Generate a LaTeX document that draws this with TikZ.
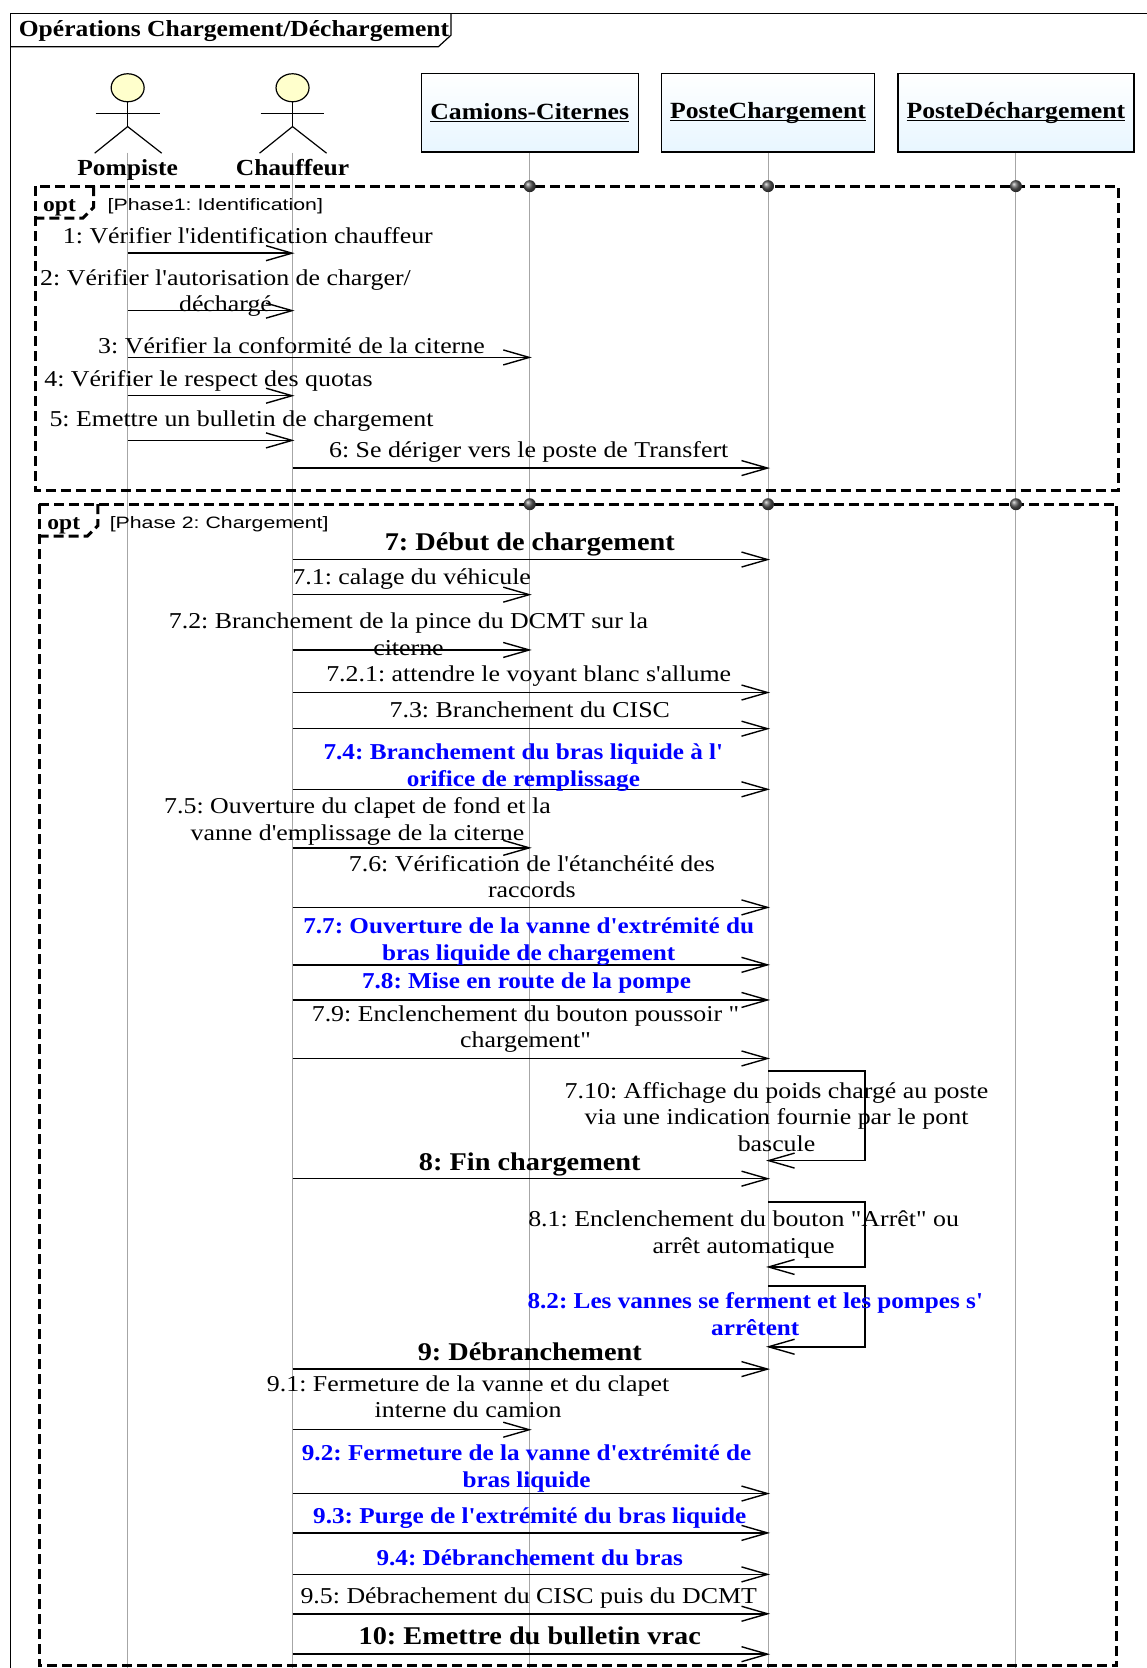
\documentclass[tikz,border=0pt]{standalone}
\usepackage{fontspec}
\setmainfont{Liberation Serif}[Ligatures=TeXOff,FakeStretch=1.14,BoldFeatures={FakeStretch=1.11}]
\newfontfamily\labelsans{Liberation Sans}[FakeStretch=1.29]
\usetikzlibrary{arrows.meta,shapes.geometric}
\AtBeginDocument{\frenchspacing}
\definecolor{boxtop}{HTML}{FFFFFF}
\definecolor{boxbot}{HTML}{E8F6FF}
\definecolor{headfill}{HTML}{FFFFCC}
\definecolor{msgblue}{RGB}{0,0,255}
\newcommand\boxname[1]{\raisebox{-2pt}{\setbox0=\hbox{#1}\rlap{\rule[-2.6pt]{\wd0}{1.3pt}}\box0}}
\tikzset{
  struts/.style={execute at begin node=\strut,execute at end node=\strut},
  txt/.style={inner sep=0pt,align=center,yshift=-2pt,struts,font=\fontsize{22.7}{26.6}\selectfont},
  ml/.style={yshift=-2pt},
  txtb/.style={txt,font=\fontsize{22.7}{26.6}\selectfont\bfseries},
  txtblue/.style={txtb,text=msgblue},
  txtbig/.style={txt,yshift=-2pt,font=\fontsize{25.5}{26.6}\selectfont\bfseries},
  condlabel/.style={inner sep=0pt,anchor=west,yshift=-2pt,struts,font=\fontsize{16.5}{20}\labelsans},
  optword/.style={inner sep=0pt,yshift=-2pt,struts,font=\fontsize{21.2}{24}\selectfont\bfseries},
  lifeline/.style={draw=black!35,line width=0.9pt},
  msgline/.style={draw=black,line width=1.5pt,shorten >=-2pt,-{Straight Barb[length=26pt,width=15pt,line width=1.4pt]}},
  lifebox/.style={draw=black,line width=1.4pt,top color=boxtop,bottom color=boxbot,minimum height=78.7pt,inner sep=0pt,font=\fontsize{23.2}{26.6}\selectfont\bfseries},
  actorname/.style={inner sep=0pt,yshift=-2pt,struts,font=\fontsize{23}{26.6}\selectfont\bfseries},
  actorhead/.style={draw=black,line width=1.2pt,fill=headfill,ellipse,minimum width=33pt,minimum height=28pt,inner sep=0pt},
  actorline/.style={draw=black,line width=1.2pt},
  optframe/.style={draw=black,line width=3pt,dash pattern=on 10pt off 5pt},
  framed/.style={draw=black,line width=1.2pt},
  lifedot/.style={circle,shade,ball color=black!65,minimum width=12pt,inner sep=0pt},
}
\newcommand\msgto[4]{\coordinate (#1s) at (#2,#4); \coordinate (#1e) at (#3,#4); \draw[msgline] (#1s) -- (#1e);}
\newcommand\selfmsg[3]{\coordinate (#1s) at (722,#2); \coordinate (#1a) at (813,#2); \coordinate (#1b) at (813,#3); \coordinate (#1e) at (722,#3); \draw[msgline] (#1s) -- (#1a) -- (#1b) -- (#1e);}
\newcommand\stick[2]{%
  \node[actorhead] (#1head) at (#2,82.5) {};
  \coordinate (#1hip) at (#2,119);
  \coordinate (#1armL) at (#2-30,107);
  \coordinate (#1armR) at (#2+30,107);
  \coordinate (#1legL) at (#2-31,144);
  \coordinate (#1legR) at (#2+32,144);
  \draw[actorline] (#1head.south) -- (#1hip);
  \draw[actorline] (#1armL) -- (#1armR);
  \draw[actorline] (#1legL) -- (#1hip) -- (#1legR);
}
\begin{document}
\begin{tikzpicture}[x=1.064pt,y=-1.064pt]
\useasboundingbox (0,0) rectangle (1078,1568);
\fill[white] (0,0) rectangle (1078,1568);
% diagram frame
\coordinate (fa) at (10,12.5);
\coordinate (fb) at (1078,12.5);
\coordinate (fc) at (10,1568);
\draw[framed] (fc) -- (fa) -- (fb);
\coordinate (ta) at (424,12.5);
\coordinate (tb) at (424,33);
\coordinate (tc) at (412,44);
\coordinate (td) at (10,44);
\draw[framed] (ta) -- (tb) -- (tc) -- (td);
\node[inner sep=0pt,yshift=-2pt,struts,font=\fontsize{23}{26.6}\selectfont\bfseries] (title) at (220,27) {Opérations Chargement/Déchargement};
% lifelines
\coordinate (low) at (0,1568);
\node[lifebox,minimum width=217pt] (cam) at (498,106) {\boxname{Camions-Citernes}};
\node[lifebox,minimum width=212.8pt] (pch) at (722,106) {\boxname{PosteChargement}};
\node[lifebox,minimum width=236pt] (pde) at (955,106) {\boxname{PosteDéchargement}};
\stick{pom}{120}
\stick{cha}{275}
\coordinate (pomtop) at (120,143.5);
\coordinate (chatop) at (275,143.5);
\draw[lifeline] (pomtop) -- (pomtop |- low);
\draw[lifeline] (chatop) -- (chatop |- low);
\draw[lifeline] (cam.south) -- (cam.south |- low);
\draw[lifeline] (pch.south) -- (pch.south |- low);
\draw[lifeline] (pde.south) -- (pde.south |- low);
\node[actorname] (pomname) at (120,158) {Pompiste};
\node[actorname] (chaname) at (275,158) {Chauffeur};
% opt 1
\coordinate (oa) at (33,175);
\coordinate (ob) at (1051,461);
\draw[optframe] (oa) rectangle (ob);
\coordinate (oc) at (88,175);
\coordinate (od) at (88,195);
\coordinate (oe) at (78,205);
\coordinate (of) at (33,205);
\draw[optframe] (oc) -- (od) -- (oe) -- (of);
\node[lifedot] (d1) at (498,175) {};
\node[lifedot] (d2) at (722,175) {};
\node[lifedot] (d3) at (955,175) {};
\node[optword] (opt1) at (56,192) {opt};
\node[condlabel] (cond1) at (101,192) {[Phase1: Identification]};
% opt 2
\coordinate (pa) at (37,474);
\coordinate (pb) at (1050,1566);
\draw[optframe] (pa) rectangle (pb);
\coordinate (pc) at (92,474);
\coordinate (pd) at (92,494);
\coordinate (pe) at (82,504);
\coordinate (pf) at (37,504);
\draw[optframe] (pc) -- (pd) -- (pe) -- (pf);
\node[lifedot] (d4) at (498,474) {};
\node[lifedot] (d5) at (722,474) {};
\node[lifedot] (d6) at (955,474) {};
\node[optword] (opt2) at (60,491) {opt};
\node[condlabel] (cond2) at (103,491) {[Phase 2: Chargement]};
% messages
\msgto{m1}{120}{275}{238}
\msgto{m2}{120}{275}{292}
\msgto{m3}{120}{498}{336}
\msgto{m4}{120}{275}{372}
\msgto{m5}{120}{275}{414}
\msgto{m6}{275}{722}{440}
\msgto{m7}{275}{722}{526}
\msgto{m71}{275}{498}{559}
\msgto{m72}{275}{498}{611}
\msgto{m721}{275}{722}{651}
\msgto{m73}{275}{722}{685}
\msgto{m74}{275}{722}{742}
\msgto{m75}{275}{498}{797}
\msgto{m76}{275}{722}{853}
\msgto{m77}{275}{722}{907}
\msgto{m78}{275}{722}{940}
\msgto{m79}{275}{722}{995}
\selfmsg{m710}{1007}{1091}
\msgto{m8}{275}{722}{1108}
\selfmsg{m81}{1130}{1191}
\selfmsg{m82}{1209}{1266}
\msgto{m9}{275}{722}{1287}
\msgto{m91}{275}{498}{1344}
\msgto{m92}{275}{722}{1404}
\msgto{m93}{275}{722}{1441}
\msgto{m94}{275}{722}{1480}
\msgto{m95}{275}{722}{1517}
\msgto{m10}{275}{722}{1555}
% labels
\node[txt] (l1) at (233,222) {1: Vérifier l'identification chauffeur};
\node[txt,ml] (l2) at (212,273) {2: Vérifier l'autorisation de charger/\\déchargé};
\node[txt] (l3) at (274,325) {3: Vérifier la conformité de la citerne};
\node[txt] (l4) at (196,356) {4: Vérifier le respect des quotas};
\node[txt] (l5) at (227,394) {5: Emettre un bulletin de chargement};
\node[txt] (l6) at (497,423) {6: Se dériger vers le poste de Transfert};
\node[txtbig] (l7) at (498,509) {7: Début de chargement};
\node[txt] (l71) at (387,543) {7.1: calage du véhicule};
\node[txt,ml] (l72) at (384,596) {7.2: Branchement de la pince du DCMT sur la\\citerne};
\node[txt] (l721) at (497,634) {7.2.1: attendre le voyant blanc s'allume};
\node[txt] (l73) at (498,668) {7.3: Branchement du CISC};
\node[txtblue,ml] (l74) at (492,719) {7.4: Branchement du bras liquide à l'\\orifice de remplissage};
\node[txt,ml] (l75) at (336,770) {7.5: Ouverture du clapet de fond et la\\vanne d'emplissage de la citerne};
\node[txt,ml] (l76) at (500,824) {7.6: Vérification de l'étanchéité des\\raccords};
\node[txtblue,ml] (l77) at (497,883) {7.7: Ouverture de la vanne d'extrémité du\\bras liquide de chargement};
\node[txtblue] (l78) at (495,922) {7.8: Mise en route de la pompe};
\node[txt,ml] (l79) at (494,965) {7.9: Enclenchement du bouton poussoir "\\chargement"};
\node[txt,ml] (l710) at (730,1050) {7.10: Affichage du poids chargé au poste\\via une indication fournie par le pont\\bascule};
\node[txtbig] (l8) at (498,1092) {8: Fin chargement};
\node[txt,ml] (l81) at (699,1158) {8.1: Enclenchement du bouton "Arrêt" ou\\arrêt automatique};
\node[txtblue,ml] (l82) at (710,1235) {8.2: Les vannes se ferment et les pompes s'\\arrêtent};
\node[txtbig] (l9) at (498,1270) {9: Débranchement};
\node[txt,ml] (l91) at (440,1313) {9.1: Fermeture de la vanne et du clapet\\interne du camion};
\node[txtblue,ml] (l92) at (495,1378) {9.2: Fermeture de la vanne d'extrémité de\\bras liquide};
\node[txtblue] (l93) at (498,1425) {9.3: Purge de l'extrémité du bras liquide};
\node[txtblue] (l94) at (498,1465) {9.4: Débranchement du bras};
\node[txt] (l95) at (497,1500) {9.5: Débrachement du CISC puis du DCMT};
\node[txtbig] (l10) at (498,1537) {10: Emettre du bulletin vrac};
\end{tikzpicture}
\end{document}
